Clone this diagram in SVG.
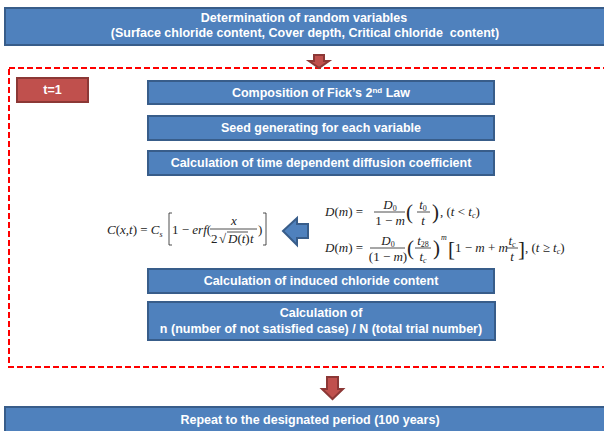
<svg xmlns="http://www.w3.org/2000/svg" width="604" height="431" viewBox="0 0 604 431">
<style>
.box{fill:#4F81BD;stroke:#385D8A;stroke-width:2}
.red{fill:#C0504D;stroke:#8C3836;stroke-width:2}
.lbl{font-family:"Liberation Sans",Arial,sans-serif;font-weight:bold;font-size:12.5px;fill:#fff;text-anchor:middle}
.m{font-family:"Liberation Serif","Times New Roman",serif;font-size:13px;fill:#222;font-style:italic}
.u{font-style:normal}
.c{text-anchor:middle}
.big{font-size:21px;font-style:normal}
.sub{font-size:8px}
.ln{stroke:#222;stroke-width:0.8;fill:none}
</style>
<rect width="604" height="431" fill="#fff"/>
<g id="top">
<rect class="box" x="5" y="8" width="605" height="37"/>
<text class="lbl" x="304" y="22">Determination of random variables</text>
<text class="lbl" x="305" y="37" xml:space="preserve">(Surface chloride content, Cover depth, Critical chloride  content)</text>
</g>
<g id="loop">
<rect x="9" y="68" width="600" height="299" fill="none" stroke="#FF0000" stroke-width="2" stroke-dasharray="6 3"/>
</g>
<g id="t1">
<rect class="red" x="17" y="78" width="71" height="24"/>
<text class="lbl" x="52.5" y="94">t=1</text>
</g>
<g id="fick">
<rect class="box" x="148" y="81" width="346" height="23"/>
<text class="lbl" x="321" y="97">Composition of Fick’s 2<tspan class="sub" dy="-4">nd</tspan><tspan dy="4"> Law</tspan></text>
</g>
<g id="seed">
<rect class="box" x="148" y="116" width="346" height="24"/>
<text class="lbl" x="321" y="132">Seed generating for each variable</text>
</g>
<g id="diff">
<rect class="box" x="148" y="151" width="346" height="24"/>
<text class="lbl" x="321" y="167">Calculation of time dependent diffusion coefficient</text>
</g>
<g id="eqC">
<text class="m" x="107" y="234">C<tspan class="u">(</tspan>x<tspan class="u">,</tspan>t<tspan class="u">) = </tspan>C<tspan class="sub" dy="3">s</tspan></text>
<path class="ln" d="M172,213 h-3 v32 h3"/>
<text class="m" x="172" y="234"><tspan class="u">1 − </tspan>erf<tspan class="u">(</tspan></text>
<text class="m c" x="234" y="225">x</text>
<line class="ln" x1="210" y1="229" x2="257" y2="229"/>
<text class="m u" x="211" y="243">2</text>
<text class="m u" x="219" y="243">√</text>
<line class="ln" x1="227" y1="232" x2="248" y2="232"/>
<text class="m" x="228" y="243">D<tspan class="u">(</tspan>t<tspan class="u">)</tspan></text>
<text class="m" x="250" y="243">t</text>
<text class="m u" x="258" y="234">)</text>
<path class="ln" d="M263,213 h3 v32 h-3"/>
</g>
<g id="eqD">
<text class="m" x="325" y="216">D<tspan class="u">(</tspan>m<tspan class="u">)  =</tspan></text>
<text class="m c" x="390" y="209">D<tspan class="u sub" dy="2">0</tspan></text>
<line class="ln" x1="374" y1="212" x2="405" y2="212"/>
<text class="m c" x="390" y="225"><tspan class="u">1 − </tspan>m</text>
<text class="m big" x="406" y="219">(</text>
<text class="m c" x="423" y="209">t<tspan class="u sub" dy="2">0</tspan></text>
<line class="ln" x1="417" y1="212" x2="430" y2="212"/>
<text class="m c" x="423" y="225">t</text>
<text class="m big" x="432" y="219">)</text>
<text class="m" x="440" y="216"><tspan class="u">, (</tspan>t<tspan class="u"> &lt; </tspan>t<tspan class="sub" dy="2">c</tspan><tspan class="u" dy="-2">)</tspan></text>

<text class="m" x="325" y="252">D<tspan class="u">(</tspan>m<tspan class="u">) =</tspan></text>
<text class="m c" x="388" y="245">D<tspan class="u sub" dy="2">0</tspan></text>
<line class="ln" x1="370" y1="248" x2="405" y2="248"/>
<text class="m c" x="388" y="261"><tspan class="u">(1 − </tspan>m<tspan class="u">)</tspan></text>
<text class="m big" x="407" y="255">(</text>
<text class="m c" x="423" y="245">t<tspan class="u sub" dy="2">28</tspan></text>
<line class="ln" x1="415" y1="248" x2="431" y2="248"/>
<text class="m c" x="423" y="261">t<tspan class="sub" dy="2">c</tspan></text>
<text class="m big" x="433" y="255">)</text>
<text class="m sub" x="441" y="240">m</text>
<text class="m big" x="448" y="256">[</text>
<text class="m" x="455" y="252"><tspan class="u">1 − </tspan>m<tspan class="u"> + </tspan>m</text>
<text class="m c" x="512" y="245">t<tspan class="sub" dy="2">c</tspan></text>
<line class="ln" x1="507" y1="248" x2="518" y2="248"/>
<text class="m c" x="512" y="261">t</text>
<text class="m big" x="518" y="256">]</text>
<text class="m" x="525" y="252"><tspan class="u">, (</tspan>t<tspan class="u"> ≥ </tspan>t<tspan class="sub" dy="2">c</tspan><tspan class="u" dy="-2">)</tspan></text>
</g>
<g id="induced">
<rect class="box" x="148" y="269" width="346" height="24"/>
<text class="lbl" x="321" y="285">Calculation of induced chloride content</text>
</g>
<g id="ratio">
<rect class="box" x="148" y="302" width="347" height="38"/>
<text class="lbl" x="321" y="317">Calculation of</text>
<text class="lbl" x="321" y="333">n (number of not satisfied case) / N (total trial number)</text>
</g>
<g id="repeat">
<rect class="box" x="5" y="407" width="605" height="30"/>
<text class="lbl" x="310" y="424">Repeat to the designated period (100 years)</text>
</g>
<g id="connectors">
<path class="red" d="M314,55 h10 v6 h5 l-10,7 l-10,-7 h5 z"/>
<path class="red" d="M327,377 h11 v12 h5 l-10.5,10 l-10.5,-10 h5 z"/>
<path class="box" d="M283,231 L297,218 V224 H308 V238 H297 V245 Z"/>
</g>
</svg>
